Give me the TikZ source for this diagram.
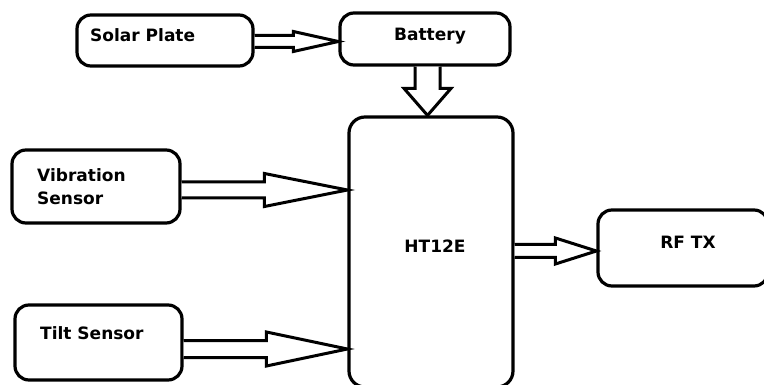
\documentclass[tikz,border=0pt]{standalone}
\usepackage{fontspec}
\setmainfont{DejaVu Sans}
\usetikzlibrary{calc}
\tikzset{
  box/.style={draw, line width=3.2pt, rounded corners=14pt, fill=white, inner sep=0pt},
  arr/.style={draw, line width=3pt, fill=white, line join=miter},
  lbl/.style={font=\bfseries\fontsize{17}{23}\selectfont, inner sep=0pt},
}
% horizontal block arrow: from, to, shaft half width, head half width, head length
\newcommand\harrow[5]{%
  \path[arr] let \p1=(#1), \p2=(#2) in
    (\x1,\y1+#3pt) -- (\x2-#5pt,\y1+#3pt) -- (\x2-#5pt,\y1+#4pt) -- (\x2,\y1)
    -- (\x2-#5pt,\y1-#4pt) -- (\x2-#5pt,\y1-#3pt) -- (\x1,\y1-#3pt);}
% vertical (downward) block arrow
\newcommand\varrow[5]{%
  \path[arr] let \p1=(#1), \p2=(#2) in
    (\x1+#3pt,\y1) -- (\x1+#3pt,\y2+#5pt) -- (\x1+#4pt,\y2+#5pt) -- (\x1,\y2)
    -- (\x1-#4pt,\y2+#5pt) -- (\x1-#3pt,\y2+#5pt) -- (\x1-#3pt,\y1);}
\begin{document}
\begin{tikzpicture}[x=1pt,y=-1pt]
\clip (0,0) rectangle (764,385);
\fill[white] (0,0) rectangle (764,385);

% boxes
\node[box, minimum width=176pt, minimum height=51pt] (sp) at (165,40.5) {};
\node[box, minimum width=170pt, minimum height=52pt] (bat) at (425,39) {};
\node[box, minimum width=164pt, minimum height=270pt, rounded corners=16pt] (ht) at (431,252) {};
\node[box, minimum width=168pt, minimum height=73pt] (vib) at (96,186.5) {};
\node[box, minimum width=167pt, minimum height=75pt] (tilt) at (98.5,342.5) {};
\node[box, minimum width=170pt, minimum height=76pt] (rf) at (683,248) {};

% block arrows
\coordinate (spo) at ($(sp.east)+(0,1)$);
\harrow{spo}{bat.west}{6}{10}{45}
\coordinate (bato) at ($(bat.south)+(2.5,0)$);
\varrow{bato}{ht.north}{12.5}{23.5}{27}
\coordinate (vibo) at ($(vib.east)+(0,3.5)$);
\harrow{vibo}{ht.west}{8}{16.5}{83}
\coordinate (tilto) at ($(tilt.east)+(0,6.5)$);
\harrow{tilto}{ht.west}{8.5}{17}{81}
\coordinate (hto) at ($(ht.east)+(0,-1)$);
\harrow{hto}{rf.west}{6.5}{13}{41}

% labels
\node[lbl, anchor=base west] (spt) at (90,41.5) {Solar Plate};
\node[lbl, anchor=base] (batt) at (430,40.5) {Battery};
\node[lbl, anchor=base] (htt) at (435,252.5) {HT12E};
\node[lbl, anchor=base] (rft) at (688,249) {RF TX};
\node[lbl, anchor=base west] (vibt1) at (37,182) {Vibration};
\node[lbl, anchor=base west] (vibt2) at (37,205) {Sensor};
\node[lbl, anchor=base west] (tiltt) at (40,339) {Tilt Sensor};
\end{tikzpicture}
\end{document}
